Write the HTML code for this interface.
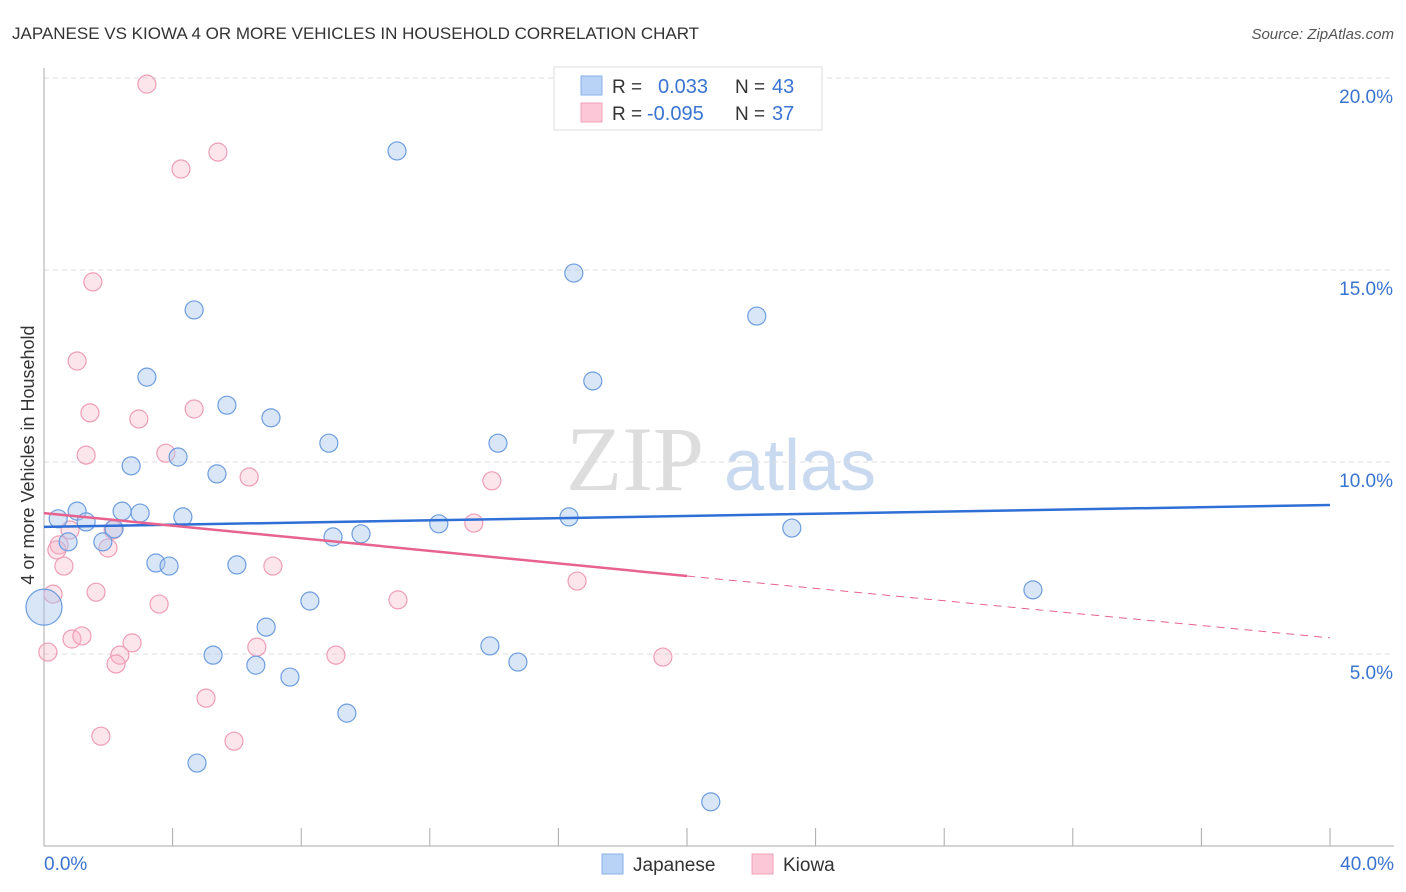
<!DOCTYPE html>
<html><head><meta charset="utf-8"><style>
body{margin:0;background:#fff;font-family:"Liberation Sans",sans-serif}
svg{display:block}
</style></head><body>
<svg id="c" width="1406" height="892" xmlns="http://www.w3.org/2000/svg">
<text x="12" y="39" font-size="17" fill="#333">JAPANESE VS KIOWA 4 OR MORE VEHICLES IN HOUSEHOLD CORRELATION CHART</text>
<text x="1394" y="39" font-size="15" fill="#555" font-style="italic" text-anchor="end">Source: ZipAtlas.com</text>
<g><text x="635" y="490" font-size="92" font-family="Liberation Serif" fill="#ddd" text-anchor="middle">ZIP</text><text x="800" y="490" font-size="72" fill="#c9daf0" text-anchor="middle">atlas</text></g>
<g id="grid"></g><g id="axes"></g><g id="pts"></g><g id="lines"></g>
<text transform="translate(34,455) rotate(-90)" font-size="18" fill="#333" text-anchor="middle">4 or more Vehicles in Household</text>
<g>
<rect x="554" y="67" width="268" height="63" fill="#fff" stroke="#ddd"/>
<rect x="581" y="76" width="21" height="19" fill="#b8d3f5" stroke="#8ab2e8"/>
<rect x="581" y="103" width="21" height="19" fill="#fcc8d7" stroke="#f0a0b8"/>
<text x="612" y="93" font-size="19" fill="#333">R = </text><text x="658" y="93" font-size="20" fill="#3a74d0">0.033</text>
<text x="735" y="93" font-size="19" fill="#333">N = </text><text x="772" y="93" font-size="20" fill="#3a74d0">43</text>
<text x="612" y="120" font-size="19" fill="#333">R = </text><text x="647" y="120" font-size="20" fill="#3a74d0">-0.095</text>
<text x="735" y="120" font-size="19" fill="#333">N = </text><text x="772" y="120" font-size="20" fill="#3a74d0">37</text>
</g>
<g>
<rect x="602" y="854" width="21" height="20" fill="#b8d3f5" stroke="#8ab2e8"/><text x="633" y="871" font-size="19" fill="#333">Japanese</text>
<rect x="752" y="854" width="21" height="20" fill="#fcc8d7" stroke="#f0a0b8"/><text x="783" y="871" font-size="19" fill="#333">Kiowa</text>
</g>
</svg>
<script>
const jpX=[0.44,1.03,1.31,0.75,2.43,2.99,1.83,2.18,2.71,3.20,4.17,4.32,3.48,3.89,4.67,5.38,5.69,5.26,6.00,6.59,6.91,7.06,7.65,4.76,8.27,8.86,8.99,9.86,9.42,10.98,12.28,13.87,14.12,14.74,16.33,16.48,17.07,20.74,22.17,23.26,30.76,0];
const jpY=[8.52,8.72,8.44,7.92,8.72,8.67,7.92,8.26,9.90,12.21,10.13,8.57,7.37,7.29,13.96,9.69,11.48,4.97,7.32,4.71,5.70,11.15,4.40,2.16,6.38,10.49,8.05,8.13,3.46,18.10,8.39,5.21,10.49,4.79,8.57,14.92,12.11,1.15,13.80,8.28,6.67,6.22];
const jpBig=[41];
const kiX=[3.20,4.26,5.41,1.52,1.03,1.43,2.95,4.67,1.31,3.79,6.38,13.93,13.37,0.81,0.47,0.40,0.62,2.15,1.99,1.62,7.12,3.58,11.01,16.58,0.28,0.87,1.18,0.12,2.74,2.36,2.24,6.62,9.08,19.25,5.04,1.77,5.91];
const kiY=[19.84,17.63,18.07,14.69,12.63,11.28,11.12,11.38,10.18,10.23,9.61,9.51,8.41,8.23,7.84,7.71,7.29,8.23,7.76,6.61,7.29,6.30,6.41,6.90,6.56,5.39,5.47,5.05,5.29,4.97,4.74,5.18,4.97,4.92,3.85,2.86,2.73];
const yTicks=[5,10,15,20];
const yTickLabels=["5.0%","10.0%","15.0%","20.0%"];
const jpTrend=[8.31,8.88];
const kiTrend=[8.67,7.03,5.42];
const kiSolidEnd=20;
const NS="http://www.w3.org/2000/svg";
const sx=v=>44+v/40*1286, sy=v=>846-v*38.4;
function mk(tag,attrs,parent){const e=document.createElementNS(NS,tag);for(const k in attrs)e.setAttribute(k,attrs[k]);document.getElementById(parent).appendChild(e);return e;}
yTicks.forEach((t,i)=>{
 const g=mk('line',{x1:44,x2:1394,y1:sy(t),y2:sy(t),stroke:'#ddd','stroke-dasharray':'5,4'},'grid');
 
 
 const l=mk('text',{x:1393,y:sy(t)+25,'font-size':19,fill:'#3a74d0','text-anchor':'end'},'grid');
 l.textContent=yTickLabels[i];
 
 
});
const ax=mk('line',{x1:44,x2:44,y1:68,y2:846,stroke:'#aaa'},'axes');


const bx=mk('line',{x1:44,x2:1394,y1:846,y2:846,stroke:'#aaa'},'axes');


for(let i=0;i<=10;i++){const t=mk('line',{x1:sx(i*4),x2:sx(i*4),y1:828,y2:846,stroke:'#aaa'},'axes');
 
 }
const x0=mk('text',{x:44,y:870,'font-size':19,fill:'#3a74d0'},'axes');x0.textContent='0.0%';


const x1=mk('text',{x:1394,y:870,'font-size':19,fill:'#3a74d0','text-anchor':'end'},'axes');x1.textContent='40.0%';


kiX.forEach((v,i)=>{const c=mk('circle',{cx:sx(v),cy:sy(kiY[i]),r:9,fill:'rgba(249,180,200,0.35)',stroke:'#ee9db5','stroke-width':1.2},'pts');
 
 });
jpX.forEach((v,i)=>{const r=jpBig.includes(i)?18:9;const c=mk('circle',{cx:sx(v),cy:sy(jpY[i]),r:r,fill:'rgba(170,200,240,0.45)',stroke:'#6d9de0','stroke-width':1.2},'pts');
 
 });
const jl=mk('line',{x1:sx(0),y1:sy(jpTrend[0]),x2:sx(40),y2:sy(jpTrend[1]),stroke:'#2f6fd6','stroke-width':2.5},'lines');


const kl=mk('line',{x1:sx(0),y1:sy(kiTrend[0]),x2:sx(kiSolidEnd),y2:sy(kiTrend[1]),stroke:'#e8628e','stroke-width':2.5},'lines');


const kd=mk('line',{x1:sx(kiSolidEnd),y1:sy(kiTrend[1]),x2:sx(40),y2:sy(kiTrend[2]),stroke:'#e8628e','stroke-width':1,'stroke-dasharray':'8,6'},'lines');


</script>
</body></html>
